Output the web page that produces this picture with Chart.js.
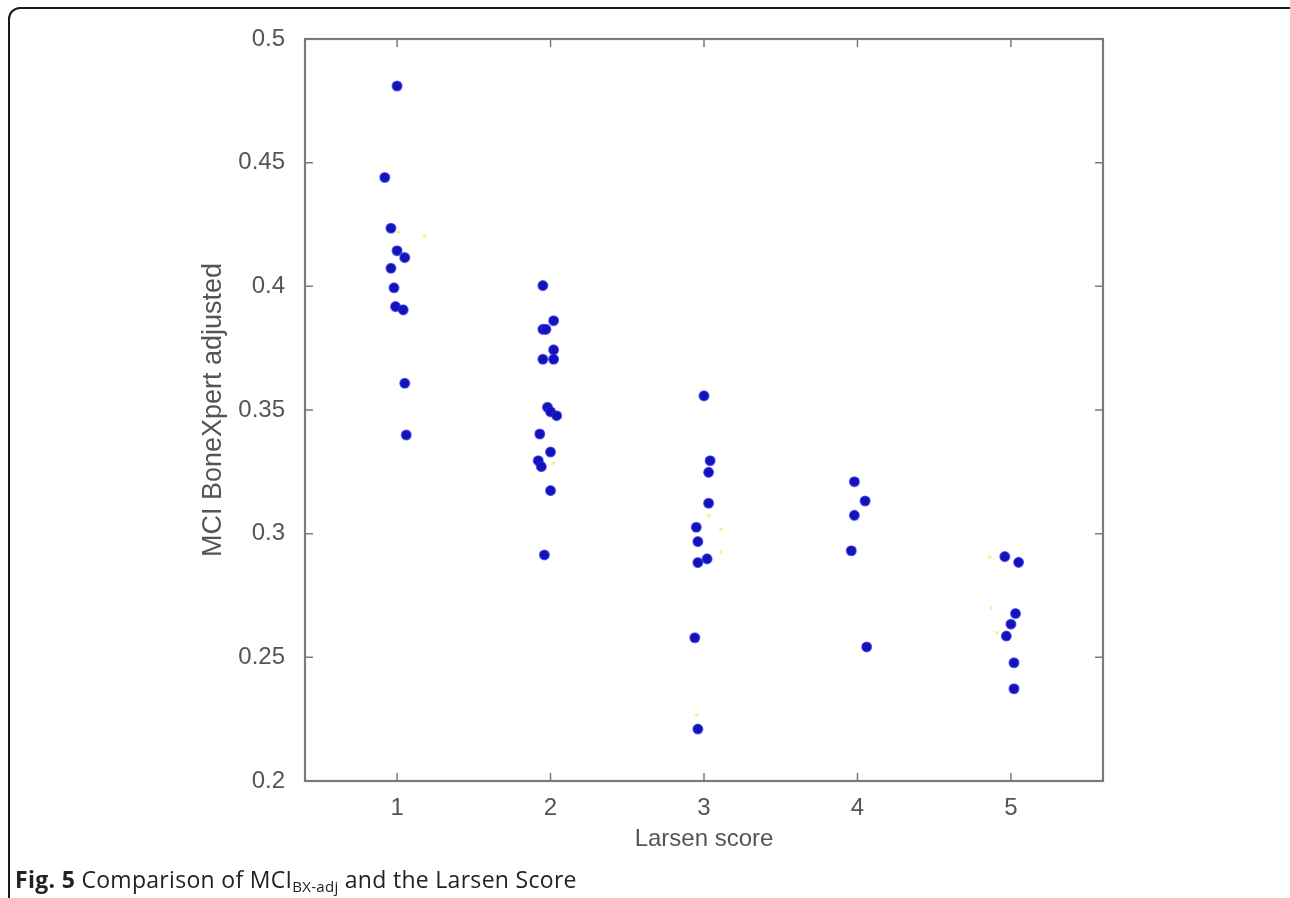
<!DOCTYPE html>
<html>
<head>
<meta charset="utf-8">
<script src="https://cdn.jsdelivr.net/npm/chart.js"></script>
<style>
    html, body { margin: 0; padding: 0; background: #fff; overflow: hidden; }
    #wrap { position: relative; width: 1290px; height: 898px; }
    #frame {
        position: absolute; left: 8px; top: 7px; width: 1300px; height: 905px;
        border: 2px solid #1a1a1a; border-radius: 12px; box-sizing: border-box;
    }
    #chart { position: absolute; left: 0; top: 0; }
    #caption {
        position: absolute; left: 15px; top: 863px;
        font-family: "Open Sans", "Noto Sans", sans-serif; font-size: 23px; color: #222;
        letter-spacing: 0.3px; white-space: nowrap;
    }
    #caption b { font-weight: 700; }
    #caption sub { font-size: 15px; vertical-align: -4px; }
</style>
</head>
<body>
<div id="wrap">
    <div id="frame"></div>
    <canvas id="chart" width="1290" height="898"></canvas>
    <div id="caption"><b>Fig. 5</b> Comparison of MCI<sub>BX-adj</sub> and the Larsen Score</div>
</div>
<script>
// Larsen score ticks and MCI axis ticks
const xTickValues = [1, 2, 3, 4, 5];
const yTickValues = [0.2, 0.25, 0.3, 0.35, 0.4, 0.45, 0.5];
const yTickLabels = ['0.2', '0.25', '0.3', '0.35', '0.4', '0.45', '0.5'];

// Points per Larsen score (x is jittered around the score)
const score1X = [1.00, 0.92, 0.96, 1.00, 1.05, 0.96, 0.98, 0.99, 1.04, 1.05, 1.06];
const score1Y = [0.481, 0.444, 0.4235, 0.4144, 0.4116, 0.4073, 0.3994, 0.3918, 0.3905, 0.3608, 0.3399];

const score2X = [1.95, 2.02, 1.95, 1.97, 2.02, 1.95, 2.02, 1.98, 2.00, 2.04, 1.93, 2.00, 1.92, 1.94, 2.00, 1.96];
const score2Y = [0.4003, 0.3861, 0.3826, 0.3826, 0.3743, 0.3705, 0.3705, 0.3511, 0.3493, 0.3477, 0.3403, 0.3330, 0.3295, 0.3271, 0.3174, 0.2914];

const score3X = [3.00, 3.04, 3.03, 3.03, 2.95, 2.96, 2.96, 3.02, 2.94, 2.96];
const score3Y = [0.3557, 0.3295, 0.3248, 0.3123, 0.3026, 0.2968, 0.2883, 0.2898, 0.2579, 0.2210];

const score4X = [3.98, 4.05, 3.98, 3.96, 4.06];
const score4Y = [0.3210, 0.3132, 0.3074, 0.2931, 0.2542];

const score5X = [4.96, 5.05, 5.03, 5.00, 4.97, 5.02, 5.02];
const score5Y = [0.2907, 0.2884, 0.2677, 0.2634, 0.2586, 0.2478, 0.2373];

// faint yellow markers
const faintX = [1.01, 1.18, 2.02, 3.03, 3.11, 3.11, 2.95, 4.86, 4.87, 4.91];
const faintY = [0.4219, 0.4205, 0.3285, 0.3073, 0.3018, 0.2927, 0.2267, 0.2905, 0.2700, 0.2600];

function toPoints(xs, ys) {
    return xs.map((x, i) => ({ x: x, y: ys[i] }));
}

const bluePoints = [].concat(
    toPoints(score1X, score1Y),
    toPoints(score2X, score2Y),
    toPoints(score3X, score3Y),
    toPoints(score4X, score4Y),
    toPoints(score5X, score5Y)
);

const axisColor = '#7a7a7a';
const textColor = '#555555';
const fontFamily = '"Liberation Sans", Arial, sans-serif';

// box round the plot area with inward ticks, MATLAB style
const boxPlugin = {
    id: 'boxPlugin',
    afterDraw(chart) {
        const { ctx, chartArea: a, scales } = chart;
        ctx.save();
        ctx.strokeStyle = axisColor;
        ctx.lineWidth = 2.2;
        ctx.strokeRect(a.left, a.top, a.right - a.left, a.bottom - a.top);
        ctx.lineWidth = 1.5;
        ctx.beginPath();
        xTickValues.forEach(v => {
            const px = scales.x.getPixelForValue(v);
            ctx.moveTo(px, a.bottom); ctx.lineTo(px, a.bottom - 8);
            ctx.moveTo(px, a.top); ctx.lineTo(px, a.top + 8);
        });
        yTickValues.forEach(v => {
            const py = scales.y.getPixelForValue(v);
            ctx.moveTo(a.left, py); ctx.lineTo(a.left + 8, py);
            ctx.moveTo(a.right, py); ctx.lineTo(a.right - 8, py);
        });
        ctx.stroke();
        ctx.restore();
    }
};

const ctx = document.getElementById('chart').getContext('2d');
new Chart(ctx, {
    type: 'scatter',
    data: {
        datasets: [
            {
                label: 'faint',
                data: toPoints(faintX, faintY),
                pointRadius: 1.8,
                pointBackgroundColor: 'rgba(238, 238, 110, 0.75)',
                pointBorderWidth: 0
            },
            {
                label: 'MCI',
                data: bluePoints,
                pointRadius: 4.8,
                pointBackgroundColor: '#1414b4',
                pointBorderColor: 'rgba(35, 35, 245, 0.65)',
                pointBorderWidth: 1.5
            }
        ]
    },
    options: {
        responsive: false,
        animation: false,
        devicePixelRatio: 1,
        layout: { padding: { top: 39, right: 187, left: 0, bottom: 0 } },
        plugins: {
            legend: { display: false },
            tooltip: { enabled: false }
        },
        scales: {
            x: {
                type: 'linear',
                min: 0.4,
                max: 5.6,
                afterFit: s => { s.height = 117; },
                afterBuildTicks: s => { s.ticks = xTickValues.map(v => ({ value: v })); },
                grid: { display: false, drawTicks: false },
                border: { display: false },
                ticks: {
                    color: textColor,
                    padding: 13,
                    font: { family: fontFamily, size: 24 },
                    callback: v => String(v)
                },
                title: {
                    display: true,
                    text: 'Larsen score',
                    color: textColor,
                    font: { family: fontFamily, size: 24 },
                    padding: { top: 0, bottom: 44 }
                }
            },
            y: {
                type: 'linear',
                min: 0.2,
                max: 0.5,
                afterFit: s => { s.width = 305; },
                afterBuildTicks: s => { s.ticks = yTickValues.map(v => ({ value: v })); },
                grid: { display: false, drawTicks: false },
                border: { display: false },
                ticks: {
                    color: textColor,
                    padding: 20,
                    font: { family: fontFamily, size: 24 },
                    callback: v => yTickLabels[yTickValues.indexOf(v)]
                },
                title: {
                    display: true,
                    text: 'MCI BoneXpert adjusted',
                    color: textColor,
                    font: { family: fontFamily, size: 27 },
                    padding: { top: 197, bottom: 0 }
                }
            }
        }
    },
    plugins: [boxPlugin]
});
</script>
</body>
</html>
